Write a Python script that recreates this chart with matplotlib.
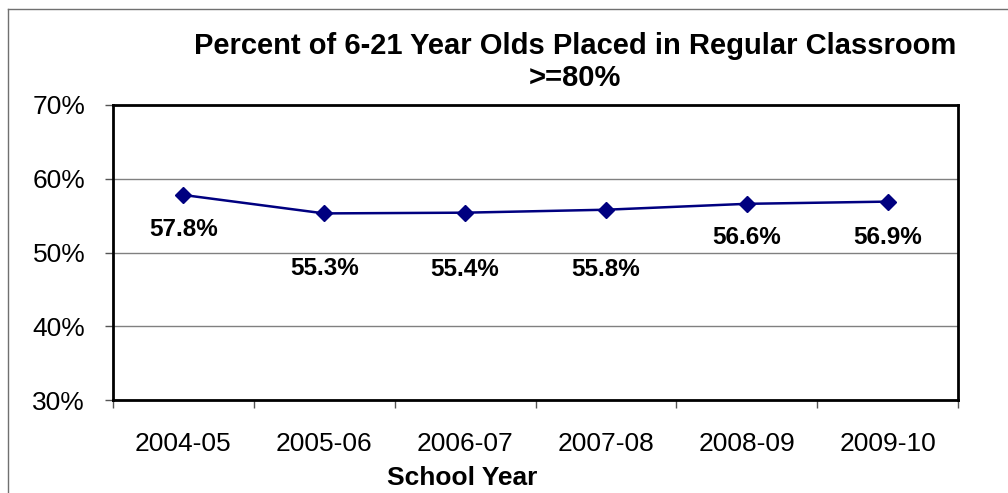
import matplotlib.pyplot as plt
import numpy as np
from matplotlib.lines import Line2D
from matplotlib.ticker import FuncFormatter

plt.rcParams["font.family"] = ["Liberation Sans", "DejaVu Sans"]

years = ["2004-05", "2005-06", "2006-07", "2007-08", "2008-09", "2009-10"]
percent_regular = [57.8, 55.3, 55.4, 55.8, 56.6, 56.9]

# label offsets below the markers (points), as placed in the original
label_offsets = [-25, -40, -41, -43, -24, -26]

fig = plt.figure(figsize=(10.08, 4.93), dpi=100)
ax = fig.add_axes([113 / 1008, 1 - 400 / 493, 845 / 1008, 295 / 493])

x = np.arange(len(years))
ax.plot(x, percent_regular, color="#000080", marker="D", markersize=8,
        linewidth=1.8, zorder=3)

for xi, v, off in zip(x, percent_regular, label_offsets):
    ax.annotate(f"{v:.1f}%", (xi, v), xytext=(0, off), textcoords="offset points",
                ha="center", va="center", fontsize=17.5, fontweight="bold")

ax.set_xlim(-0.5, len(years) - 0.5)
ax.set_ylim(30, 70)
ax.set_yticks(np.arange(30, 71, 10))
ax.yaxis.set_major_formatter(FuncFormatter(lambda v, _: f"{v:.0f}%"))
ax.yaxis.grid(True, color="#808080", linewidth=1)
ax.set_axisbelow(True)

# boundary ticks between categories, labels at the centres
ax.set_xticks(np.arange(-0.5, len(years)), minor=False)
ax.set_xticklabels([])
ax.set_xticks(x, minor=True)
ax.set_xticklabels(years, minor=True)
ax.tick_params(axis="x", which="major", length=6, width=1, color="#555555")
ax.tick_params(axis="x", which="minor", length=0, pad=23, labelsize=19)
ax.tick_params(axis="y", length=6, width=1, color="#555555", pad=14, labelsize=19)

for spine in ax.spines.values():
    spine.set_linewidth(2)
    spine.set_color("black")

ax.set_xlabel("School Year", fontsize=19, fontweight="bold")
ax.xaxis.set_label_coords((462 - 113) / 845, (400 - 478) / 295)
ax.xaxis.label.set_va("center")

fig.text(575 / 1008, 1 - 62 / 493,
         "Percent of 6-21 Year Olds Placed in Regular Classroom\n>=80%",
         ha="center", va="center", multialignment="center",
         fontsize=21, fontweight="bold", linespacing=1.15)

# chart frame (only top and left edges fall inside the picture)
fig.add_artist(Line2D([8 / 1008, 8 / 1008], [0, 1 - 9 / 493],
                      transform=fig.transFigure, color="#707070", linewidth=1))
fig.add_artist(Line2D([8 / 1008, 1], [1 - 9 / 493, 1 - 9 / 493],
                      transform=fig.transFigure, color="#707070", linewidth=1))

fig.savefig("out.png", dpi=100)
